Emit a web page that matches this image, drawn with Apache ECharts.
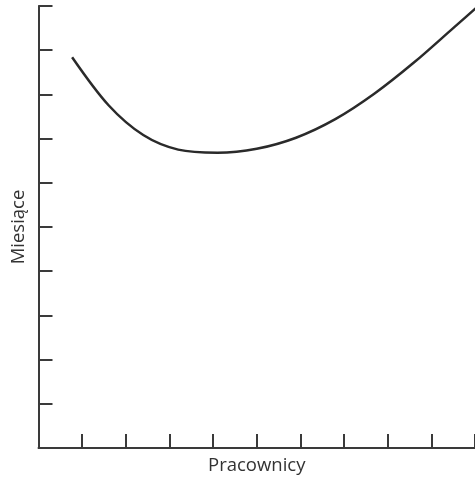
<!DOCTYPE html>
<html>
<head>
<meta charset="utf-8">
<script src="https://cdn.jsdelivr.net/npm/echarts@6/dist/echarts.min.js"></script>
<style>html,body{margin:0;padding:0;background:#fff;}#c{width:475px;height:482px;}</style>
</head>
<body>
<div id="c"></div>
<script>
const xName = 'Pracownicy';
const yName = 'Miesiące';
const curveX = [0.77, 1.6, 2.4, 3.2, 4.1, 5.0, 5.9, 6.8, 7.7, 8.6, 9.5, 10.2];
const curveY = [8.84, 7.76, 7.08, 6.75, 6.68, 6.77, 7.02, 7.44, 8.02, 8.72, 9.50, 10.11];

const chart = echarts.init(document.getElementById('c'), null, {renderer: 'canvas'});
const axisCommon = {
  type: 'value', min: 0, max: 10, interval: 1,
  nameLocation: 'middle',
  nameTextStyle: {fontFamily: 'Open Sans', fontSize: 18.5, color: '#333'},
  axisLine: {show: true, onZero: false, lineStyle: {color: '#3a3a3a', width: 2}},
  axisTick: {show: true, inside: true, length: 14, lineStyle: {color: '#3a3a3a', width: 2}},
  axisLabel: {show: false},
  splitLine: {show: false}
};
chart.setOption({
  animation: false,
  backgroundColor: '#fff',
  grid: {left: 38.5, right: -5.5, top: 6, bottom: 34, containLabel: false},
  xAxis: Object.assign({}, axisCommon, {name: xName, nameGap: 8}),
  yAxis: Object.assign({}, axisCommon, {name: yName, nameGap: 10}),
  series: [{
    type: 'line',
    data: curveX.map((x, i) => [x, curveY[i]]),
    smooth: 0.32,
    showSymbol: false,
    clip: false,
    lineStyle: {color: '#2a2a2a', width: 2.5}
  }]
});
</script>
</body>
</html>
